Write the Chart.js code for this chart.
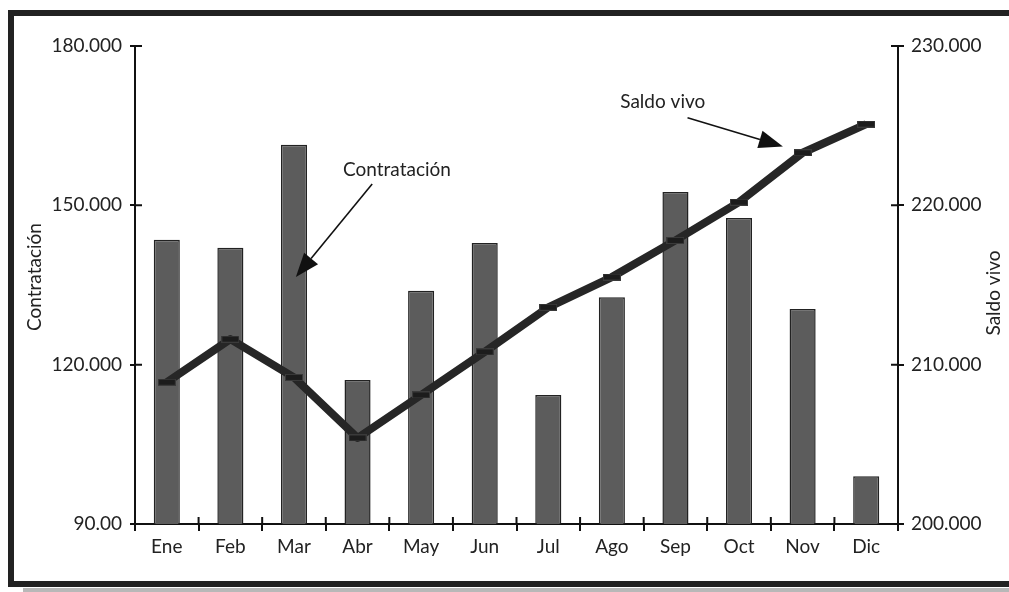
<!DOCTYPE html>
<html>
<head>
<meta charset="utf-8">
<script src="https://cdn.jsdelivr.net/npm/chart.js@4.4.1/dist/chart.umd.min.js"></script>
<style>
body{margin:0;background:#fff;overflow:hidden;}
#marco{position:absolute;left:8px;top:10px;width:1010px;height:577px;box-sizing:border-box;border:6px solid #222;border-right:none;}
#sombra{position:absolute;left:23px;top:588px;width:986px;height:4px;background:#b8b8b8;}
#grafico{position:absolute;left:0;top:0;}
</style>
</head>
<body>
<div id="marco"></div>
<div id="sombra"></div>
<canvas id="grafico" width="1009" height="592"></canvas>
<script>
// datos
var meses = ['Ene','Feb','Mar','Abr','May','Jun','Jul','Ago','Sep','Oct','Nov','Dic'];
var contratacion = [143500, 142000, 161400, 117100, 133900, 142900, 114300, 132700, 152500, 147600, 130500, 99000];
var saldoVivo = [208900, 211600, 209200, 205400, 208100, 210800, 213600, 215500, 217800, 220200, 223300, 225100];
var ticksIzq = [90000, 120000, 150000, 180000];
var etiquetasIzq = ['90.00', '120.000', '150.000', '180.000'];
var ticksDer = [200000, 210000, 220000, 230000];
var etiquetasDer = ['200.000', '210.000', '220.000', '230.000'];

// notas con flecha (posicion en unidades de los ejes)
var notas = [
  {texto: 'Contratación', eje: 'y', txt: [3.62, 155500], desde: [3.23, 154000], hasta: [2.03, 136500]},
  {texto: 'Saldo vivo', eje: 'y1', txt: [7.80, 226100], desde: [8.19, 225500], hasta: [9.69, 223700]}
];

Chart.defaults.font.family = 'Lato';
Chart.defaults.font.size = 19;
Chart.defaults.color = '#222';

//marca rectangular de la linea
var marca = document.createElement('canvas');
marca.width = 18; marca.height = 7;
var mc = marca.getContext('2d');
mc.fillStyle = '#1c1c1c';
mc.fillRect(0, 0, 18, 7);
mc.strokeStyle = '#3a3a3a';
mc.strokeRect(0.5, 0.5, 17, 6);

function flecha(ctx, x0, y0, x1, y1){
    var ang = Math.atan2(y1 - y0, x1 - x0);
    var largo = 24, ancho = 9;
    var bx = x1 - largo * Math.cos(ang), by = y1 - largo * Math.sin(ang);
    ctx.beginPath();
    ctx.moveTo(x0, y0);
    ctx.lineTo(bx, by);
    ctx.stroke();
    ctx.beginPath();
    ctx.moveTo(x1, y1);
    ctx.lineTo(bx + ancho * Math.sin(ang), by - ancho * Math.cos(ang));
    ctx.lineTo(bx - ancho * Math.sin(ang), by + ancho * Math.cos(ang));
    ctx.closePath();
    ctx.fill();
}

var extras = {
  id: 'extras',
  afterDatasetsDraw: function(chart){
    var ctx = chart.ctx, a = chart.chartArea;
    var sx = chart.scales.x, sy = chart.scales.y, sy1 = chart.scales.y1;
    ctx.save();
    // parte interior de las marcas de los ejes
    ctx.strokeStyle = '#111';
    ctx.lineWidth = 2;
    ctx.beginPath();
    ticksIzq.forEach(function(v){
        var p = sy.getPixelForValue(v);
        ctx.moveTo(a.left, p); ctx.lineTo(a.left + 7, p);
    });
    ticksDer.forEach(function(v){
        var p = sy1.getPixelForValue(v);
        ctx.moveTo(a.right, p); ctx.lineTo(a.right - 7, p);
    });
    for (var i = 1; i < meses.length; i++){
        var px = sx.getPixelForValue(i - 0.5);
        ctx.moveTo(px, a.bottom); ctx.lineTo(px, a.bottom - 7);
    }
    ctx.stroke();

    // titulos de los ejes
    ctx.fillStyle = '#222';
    ctx.font = '19px Lato';
    ctx.textAlign = 'center';
    ctx.textBaseline = 'middle';
    ctx.save();
    ctx.translate(a.left - 100, (a.top + a.bottom) / 2 - 8);
    ctx.rotate(-Math.PI / 2);
    ctx.fillText('Contratación', 0, 0);
    ctx.restore();
    ctx.save();
    ctx.translate(a.right + 96, (a.top + a.bottom) / 2 + 8);
    ctx.rotate(-Math.PI / 2);
    ctx.fillText('Saldo vivo', 0, 0);
    ctx.restore();

    // notas
    ctx.textBaseline = 'alphabetic';
    ctx.lineWidth = 1.6;
    ctx.strokeStyle = '#111';
    notas.forEach(function(n){
        var ey = chart.scales[n.eje];
        ctx.fillStyle = '#222';
        ctx.fillText(n.texto, sx.getPixelForValue(n.txt[0]), ey.getPixelForValue(n.txt[1]));
        ctx.fillStyle = '#111';
        flecha(ctx, sx.getPixelForValue(n.desde[0]), ey.getPixelForValue(n.desde[1]),
                    sx.getPixelForValue(n.hasta[0]), ey.getPixelForValue(n.hasta[1]));
    });
    ctx.restore();
  }
};

new Chart(document.getElementById('grafico'), {
    type: 'bar',
    data: {
        labels: meses,
        datasets: [
            {
                type: 'line',
                label: 'Saldo vivo',
                data: saldoVivo,
                yAxisID: 'y1',
                order: 0,
                borderColor: '#262626',
                borderWidth: 8,
                borderJoinStyle: 'round',
                tension: 0,
                pointStyle: marca,
                pointRadius: 5,
                fill: false
            },
            {
                label: 'Contratación',
                data: contratacion,
                yAxisID: 'y',
                order: 1,
                backgroundColor: '#5c5c5c',
                borderColor: '#222',
                borderWidth: 1.5,
                barPercentage: 0.41,
                categoryPercentage: 1
            }
        ]
    },
    options: {
        responsive: false,
        animation: false,
        layout: {padding: {top: 46, left: 0, right: 0, bottom: 0}},
        plugins: {legend: {display: false}, tooltip: {enabled: false}},
        scales: {
            x: {
                offset: true,
                grid: {offset: true, drawOnChartArea: false, tickLength: 7, color: '#111', lineWidth: 2},
                border: {display: true, color: '#111', width: 2},
                ticks: {padding: 4, maxRotation: 0},
                afterFit: function(s){ s.height = 68; }
            },
            y: {
                position: 'left',
                min: 90000,
                max: 180000,
                grid: {drawOnChartArea: false, tickLength: 5, color: '#111', lineWidth: 2},
                border: {display: true, color: '#111', width: 2},
                afterBuildTicks: function(s){ s.ticks = ticksIzq.map(function(v){ return {value: v}; }); },
                ticks: {padding: 8, callback: function(v, i){ return etiquetasIzq[i]; }},
                afterFit: function(s){ s.width = 135; }
            },
            y1: {
                position: 'right',
                min: 200000,
                max: 230000,
                grid: {drawOnChartArea: false, tickLength: 6, color: '#111', lineWidth: 2},
                border: {display: true, color: '#111', width: 2},
                afterBuildTicks: function(s){ s.ticks = ticksDer.map(function(v){ return {value: v}; }); },
                ticks: {padding: 7, callback: function(v, i){ return etiquetasDer[i]; }},
                afterFit: function(s){ s.width = 111; }
            }
        }
    },
    plugins: [extras]
});
</script>
</body>
</html>
